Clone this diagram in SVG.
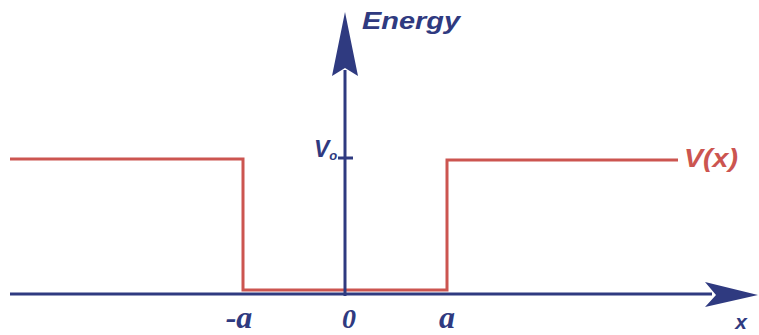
<svg xmlns="http://www.w3.org/2000/svg" width="759" height="335" viewBox="0 0 759 335">
<style>
.ax{stroke:#2f3a80;stroke-width:3;fill:none}
.pot{stroke:#cc5550;stroke-width:3;fill:none}
.bl{fill:#2f3a80;font-family:"Liberation Sans",Arial,sans-serif;font-weight:bold;font-style:italic}
.rd{fill:#cc5550;font-family:"Liberation Sans",Arial,sans-serif;font-weight:bold;font-style:italic}
.ser{fill:#2f3a80;font-family:"Liberation Serif","Times New Roman",serif;font-weight:bold;font-style:italic}
</style>
<rect width="759" height="335" fill="#ffffff"/>
<g id="potential">
<polyline class="pot" points="10,159 243,159 243,290 447,290 447,160 678,160"/>
<text class="rd" x="684" y="167" font-size="26" textLength="54" lengthAdjust="spacingAndGlyphs">V(x)</text>
</g>
<g id="connectors">
<line class="ax" x1="10" y1="294" x2="712" y2="294"/>
<path d="M758,295 L705,282 L716,295 L705,307 Z" fill="#2f3a80"/>
<line class="ax" x1="345" y1="296" x2="345" y2="70"/>
<path d="M345,12 L332,76 L345,68 L358,76 Z" fill="#2f3a80"/>
<line class="ax" x1="338" y1="158" x2="353" y2="158"/>
</g>
<g id="labels">
<text class="bl" x="314" y="157" font-size="23">V<tspan font-size="13" dy="3">o</tspan></text>
<text class="bl" x="362" y="29" font-size="23" textLength="98" lengthAdjust="spacingAndGlyphs">Energy</text>
<text class="ser" x="239" y="328" font-size="32" text-anchor="middle">-a</text>
<text class="ser" x="349" y="328" font-size="28" text-anchor="middle">0</text>
<text class="ser" x="447" y="328" font-size="32" text-anchor="middle">a</text>
<text class="bl" x="741" y="329" font-size="21" text-anchor="middle">x</text>
</g>
</svg>
